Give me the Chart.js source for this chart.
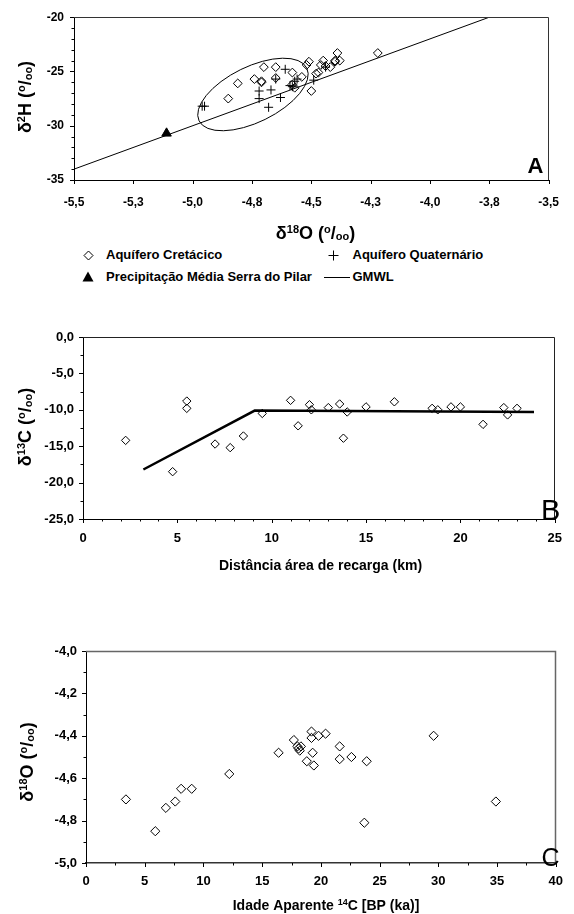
<!DOCTYPE html>
<html><head><meta charset="utf-8">
<script src="https://cdn.jsdelivr.net/npm/chart.js@4.4.1/dist/chart.umd.min.js"></script>
<style>
html,body{margin:0;padding:0;background:#fff;}
#wrap{position:relative;width:574px;height:914px;overflow:hidden;font-family:"Liberation Sans",Arial,Helvetica,sans-serif;}
canvas{position:absolute;left:0;}
.lg{position:absolute;font-weight:bold;font-size:13px;line-height:15px;color:#000;white-space:nowrap;}
.mk{position:absolute;}
</style></head><body>
<div id="wrap">
<canvas id="cA" width="574" height="245" style="top:0;width:574px;height:245px"></canvas>
<canvas id="cB" width="574" height="290" style="top:320px;width:574px;height:290px"></canvas>
<canvas id="cC" width="574" height="304" style="top:610px;width:574px;height:304px"></canvas>

<svg class="mk" style="left:83px;top:250px" width="11" height="11"><path d="M5.5 1 L10 5.5 L5.5 10 L1 5.5 Z" fill="none" stroke="#000" stroke-width="1"/></svg>
<div class="lg" style="left:106px;top:247px">Aquífero Cretácico</div>
<svg class="mk" style="left:328px;top:250px" width="11" height="11"><path d="M0.5 5.5 H10.5 M5.5 0.5 V10.5" fill="none" stroke="#000" stroke-width="1"/></svg>
<div class="lg" style="left:352.5px;top:247px">Aquífero Quaternário</div>
<svg class="mk" style="left:82px;top:271px" width="12" height="11"><path d="M6 0.5 L11.5 10.5 L0.5 10.5 Z" fill="#000"/></svg>
<div class="lg" style="left:106px;top:268.5px">Precipitação Média Serra do Pilar</div>
<div class="mk" style="left:324px;top:277px;width:26px;height:1px;background:#000"></div>
<div class="lg" style="left:352.5px;top:268.5px">GMWL</div>
</div>
<script>
// ---------- Panel A: δ18O vs δ2H ----------
const aCretO = [-4.85,-4.81,-4.74,-4.71,-4.71,-4.70,-4.65,-4.65,-4.58,-4.54,-4.58,-4.57,-4.52,-4.51,-4.50,-4.48,-4.47,-4.45,-4.46,-4.44,-4.42,-4.40,-4.39,-4.38,-4.40,-4.22];
const aCretH = [-27.5,-26.1,-25.7,-25.9,-26.0,-24.6,-24.6,-25.6,-25.1,-25.5,-26.2,-26.5,-24.4,-24.1,-26.8,-25.2,-25.1,-24.0,-24.4,-24.5,-24.6,-24.1,-23.3,-24.0,-24.0,-23.3];
const aQuatO = [-4.96,-4.95,-4.72,-4.72,-4.67,-4.68,-4.63,-4.61,-4.65,-4.59,-4.57,-4.56,-4.58,-4.49,-4.44];
const aQuatH = [-28.2,-28.2,-26.8,-27.5,-26.7,-28.3,-27.4,-24.8,-25.7,-26.3,-25.9,-25.7,-26.4,-25.8,-24.6];
const aPrecO = [-5.11];
const aPrecH = [-30.7];
const gmwlO = [-5.5, -3.75];
const gmwlH = [-34, -20];
const ellipseCenter = [-4.746, -27.12];
const ellipseMajorTip = [-4.519, -24.69];
const ellipseMinorTip = [-4.695, -29.42];
const aXTicks = ['-5,5','-5,3','-5,0','-4,8','-4,5','-4,3','-4,0','-3,8','-3,5'];
const aYTicks = ['-35','-30','-25','-20'];

// ---------- Panel B: distance vs δ13C ----------
const bDist = [2.26,4.75,5.5,5.5,7.0,7.8,8.5,9.5,11.0,11.4,12.0,12.1,13.0,13.6,13.8,14.0,15.0,16.5,18.5,18.8,19.5,20.0,21.2,22.3,22.5,23.0];
const bC13 = [-14.2,-18.5,-8.8,-9.8,-14.7,-15.2,-13.6,-10.5,-8.7,-12.2,-9.3,-10.0,-9.7,-9.2,-13.9,-10.3,-9.6,-8.9,-9.8,-10.0,-9.6,-9.6,-12.0,-9.7,-10.7,-9.8];
const bTrendX = [3.2, 9.1, 23.9];
const bTrendY = [-18.2, -10.1, -10.3];
const bXTicks = ['0','5','10','15','20','25'];
const bYTicks = ['-25,0','-20,0','-15,0','-10,0','-5,0','0,0'];

// ---------- Panel C: 14C age vs δ18O ----------
const cAge = [3.4,5.9,6.8,7.6,8.1,9.0,12.2,16.4,17.7,18.0,18.1,18.3,18.2,19.2,19.2,19.8,20.4,19.3,18.8,19.4,21.6,21.6,22.6,23.9,23.7,29.6,34.9];
const cO18 = [-4.70,-4.85,-4.74,-4.71,-4.65,-4.65,-4.58,-4.48,-4.42,-4.45,-4.46,-4.45,-4.47,-4.38,-4.41,-4.40,-4.39,-4.48,-4.52,-4.54,-4.45,-4.51,-4.50,-4.52,-4.81,-4.40,-4.71];
const cXTicks = ['0','5','10','15','20','25','30','35','40'];
const cYTicks = ['-5,0','-4,8','-4,6','-4,4','-4,2','-4,0'];

const FF = '"Liberation Sans", Arial, Helvetica, sans-serif';
const pts = (xs, ys) => xs.map((x, i) => ({x: x, y: ys[i]}));
const tickCb = (labels, min, step) => v => { const i = Math.round((v - min) / step); return labels[i] !== undefined ? labels[i] : ''; };

function axis(o) {
  return {
    type: 'linear', position: o.pos, min: o.min, max: o.max,
    grid: {display: false, drawTicks: false, tickLength: 0},
    border: {display: true, color: o.axisColor || '#000', width: o.axisWidth || 1},
    ticks: {stepSize: o.step, autoSkip: false, maxRotation: 0, minRotation: 0, padding: o.pad, color: '#000',
      font: {family: FF, size: o.fs, weight: 'bold'}, callback: tickCb(o.labels, o.min, o.step)},
    afterFit: s => { if (o.pos === 'left') s.width = o.size; else s.height = o.size; }
  };
}

function drawRich(ctx, parts, cx, cy, rot, size) {
  ctx.save();
  ctx.translate(cx, cy);
  if (rot) ctx.rotate(-Math.PI / 2);
  const small = Math.round(size * 0.62);
  const fonts = {n: 'bold ' + size + 'px ' + FF, sup: 'bold ' + small + 'px ' + FF, sub: 'bold ' + small + 'px ' + FF};
  const offs = {n: 0, sup: -size * 0.36, sub: size * 0.04};
  let w = 0;
  parts.forEach(p => { ctx.font = fonts[p[1]]; w += ctx.measureText(p[0]).width; });
  let x = -w / 2;
  const base = size * 0.36;
  ctx.textBaseline = 'alphabetic'; ctx.textAlign = 'left'; ctx.fillStyle = '#000';
  parts.forEach(p => { ctx.font = fonts[p[1]]; ctx.fillText(p[0], x, base + offs[p[1]]); x += ctx.measureText(p[0]).width; });
  ctx.restore();
}

const deco = {
  id: 'deco',
  afterDraw(chart, args, o) {
    const ctx = chart.ctx, ca = chart.chartArea, xs = chart.scales.x, ys = chart.scales.y;
    ctx.save();
    ctx.strokeStyle = o.frameColor; ctx.lineWidth = o.frameWidth;
    ctx.beginPath();
    ctx.moveTo(ca.left, Math.round(ca.top) + 0.5);
    ctx.lineTo(Math.round(ca.right) - 0.5, Math.round(ca.top) + 0.5);
    ctx.lineTo(Math.round(ca.right) - 0.5, ca.bottom);
    ctx.stroke();
    ctx.strokeStyle = '#000'; ctx.lineWidth = 1;
    ctx.beginPath();
    const nx = Math.round((xs.max - xs.min) / o.xMinor);
    for (let i = 0; i <= nx; i++) {
      const v = xs.min + i * o.xMinor;
      const maj = Math.abs((i * o.xMinor / o.xMajor) - Math.round(i * o.xMinor / o.xMajor)) < 1e-6;
      const px = Math.round(xs.getPixelForValue(v)) + 0.5;
      ctx.moveTo(px, ca.bottom); ctx.lineTo(px, ca.bottom + (maj ? 4 : 2.5));
    }
    const ny = Math.round((ys.max - ys.min) / o.yMinor);
    for (let i = 0; i <= ny; i++) {
      const v = ys.min + i * o.yMinor;
      const maj = Math.abs((i * o.yMinor / o.yMajor) - Math.round(i * o.yMinor / o.yMajor)) < 1e-6;
      const py = Math.round(ys.getPixelForValue(v)) + 0.5;
      ctx.moveTo(ca.left, py); ctx.lineTo(ca.left - (maj ? 4 : 2.5), py);
    }
    ctx.stroke();
    if (o.titleX) drawRich(ctx, o.titleX.parts, o.titleX.x, o.titleX.y, false, o.titleX.size);
    if (o.titleY) drawRich(ctx, o.titleY.parts, o.titleY.x, o.titleY.y, true, o.titleY.size);
    ctx.fillStyle = '#000'; ctx.font = o.letter.font; ctx.textAlign = 'left'; ctx.textBaseline = 'alphabetic';
    ctx.fillText(o.letter.text, o.letter.x, o.letter.y);
    ctx.restore();
  },
  beforeDatasetsDraw(chart, args, o) {
    if (!o.ellipse) return;
    const ctx = chart.ctx, xs = chart.scales.x, ys = chart.scales.y, e = o.ellipse;
    const cx = xs.getPixelForValue(e.c[0]), cy = ys.getPixelForValue(e.c[1]);
    const mx = xs.getPixelForValue(e.a[0]) - cx, my = ys.getPixelForValue(e.a[1]) - cy;
    const nx = xs.getPixelForValue(e.b[0]) - cx, ny = ys.getPixelForValue(e.b[1]) - cy;
    ctx.save();
    ctx.strokeStyle = '#000'; ctx.lineWidth = 1;
    ctx.beginPath();
    ctx.ellipse(cx, cy, Math.hypot(mx, my), Math.hypot(nx, ny), Math.atan2(my, mx), 0, Math.PI * 2);
    ctx.stroke();
    ctx.restore();
  }
};

const common = {
  responsive: false, animation: false, events: [],
  plugins: {legend: {display: false}, tooltip: {enabled: false}}
};
const diamond = r => ({pointStyle: 'rectRot', pointRadius: r, borderColor: '#000', borderWidth: 1, backgroundColor: 'rgba(0,0,0,0)', showLine: false});
const TD18 = [['δ','n'],['18','sup'],['O (','n'],['o','sup'],['/','n'],['oo','sub'],[')','n']];

new Chart(document.getElementById('cA'), {
  type: 'scatter',
  data: {datasets: [
    {label: 'GMWL', data: pts(gmwlO, gmwlH), showLine: true, borderColor: '#000', borderWidth: 1, pointRadius: 0, fill: false, tension: 0},
    Object.assign({label: 'Aquífero Cretácico', data: pts(aCretO, aCretH)}, diamond(4.4)),
    {label: 'Aquífero Quaternário', data: pts(aQuatO, aQuatH), pointStyle: 'cross', pointRadius: 4.5, borderColor: '#000', borderWidth: 1, showLine: false},
    {label: 'Precipitação Média Serra do Pilar', data: pts(aPrecO, aPrecH), pointStyle: 'triangle', pointRadius: 5.5, borderColor: '#000', backgroundColor: '#000', borderWidth: 1, showLine: false}
  ]},
  options: Object.assign({}, common, {
    layout: {padding: {left: 0, right: 17, top: 16, bottom: 0}},
    scales: {
      x: axis({pos: 'bottom', min: -5.5, max: -3.5, step: 0.25, labels: aXTicks, pad: 15, fs: 12, size: 65}),
      y: axis({pos: 'left', min: -35, max: -20, step: 5, labels: aYTicks, pad: 10, fs: 12, size: 74})
    },
    plugins: Object.assign({}, common.plugins, {deco: {
      xMajor: 0.25, xMinor: 0.25, yMajor: 5, yMinor: 1, frameColor: '#333', frameWidth: 1,
      titleX: {parts: TD18, x: 315.5, y: 233, size: 18},
      titleY: {parts: [['δ','n'],['2','sup'],['H (','n'],['o','sup'],['/','n'],['oo','sub'],[')','n']], x: 25, y: 97, size: 18},
      letter: {text: 'A', x: 527.5, y: 172.5, font: 'bold 22px ' + FF},
      ellipse: {c: ellipseCenter, a: ellipseMajorTip, b: ellipseMinorTip}
    }})
  }),
  plugins: [deco]
});

new Chart(document.getElementById('cB'), {
  type: 'scatter',
  data: {datasets: [
    {label: 'Tendência', data: pts(bTrendX, bTrendY), showLine: true, borderColor: '#000', borderWidth: 2.5, pointRadius: 0, fill: false, tension: 0},
    Object.assign({label: 'δ13C', data: pts(bDist, bC13)}, diamond(4.2))
  ]},
  options: Object.assign({}, common, {
    layout: {padding: {left: 0, right: 16, top: 17, bottom: 0}},
    scales: {
      x: axis({pos: 'bottom', min: 0, max: 25, step: 5, labels: bXTicks, pad: 12, fs: 13, size: 91}),
      y: axis({pos: 'left', min: -25, max: 0, step: 5, labels: bYTicks, pad: 9, fs: 13, size: 83})
    },
    plugins: Object.assign({}, common.plugins, {deco: {
      xMajor: 5, xMinor: 1, yMajor: 5, yMinor: 2.5, frameColor: '#222', frameWidth: 1,
      titleX: {parts: [['Distância área de recarga (km)','n']], x: 320.5, y: 245, size: 14},
      titleY: {parts: [['δ','n'],['13','sup'],['C (','n'],['o','sup'],['/','n'],['oo','sub'],[')','n']], x: 25, y: 107, size: 18},
      letter: {text: 'B', x: 541, y: 199.5, font: '29px ' + FF}
    }})
  }),
  plugins: [deco]
});

new Chart(document.getElementById('cC'), {
  type: 'scatter',
  data: {datasets: [
    Object.assign({label: 'δ18O', data: pts(cAge, cO18)}, diamond(4.6))
  ]},
  options: Object.assign({}, common, {
    layout: {padding: {left: 0, right: 8, top: 41, bottom: 0}},
    scales: {
      x: axis({pos: 'bottom', min: 0, max: 40, step: 5, labels: cXTicks, pad: 11, fs: 13, size: 51, axisColor: '#333', axisWidth: 1.5}),
      y: axis({pos: 'left', min: -5, max: -4, step: 0.2, labels: cYTicks, pad: 9, fs: 13, size: 86})
    },
    plugins: Object.assign({}, common.plugins, {deco: {
      xMajor: 5, xMinor: 2.5, yMajor: 0.2, yMinor: 0.1, frameColor: '#666', frameWidth: 1.5,
      titleX: {parts: [['Idade Aparente ','n'],['14','sup'],['C [BP (ka)]','n']], x: 326, y: 295, size: 14},
      titleY: {parts: TD18, x: 26.5, y: 152, size: 18},
      letter: {text: 'C', x: 541.5, y: 256, font: '25px ' + FF}
    }})
  }),
  plugins: [deco]
});
</script>
</body></html>
